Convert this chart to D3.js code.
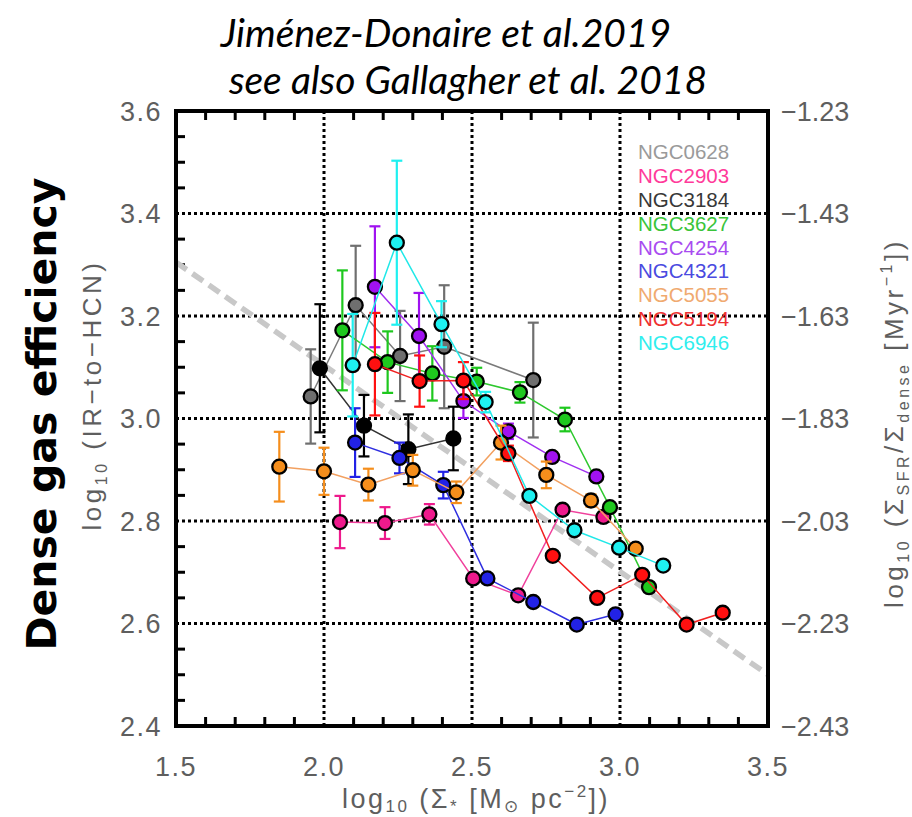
<!DOCTYPE html>
<html><head><meta charset="utf-8">
<script src="https://cdn.jsdelivr.net/npm/d3@7/dist/d3.min.js"></script>
<style>
html,body{margin:0;padding:0;background:#fff;}
svg{display:block;}
</style></head>
<body>
<svg id="chart" width="912" height="817"></svg>
<script>
// ---- Data ----
const galaxyNames = ["NGC0628","NGC2903","NGC3184","NGC3627","NGC4254","NGC4321","NGC5055","NGC5194","NGC6946"];
const markerColors = ["#6f6f6f","#ee1a8c","#000000","#1ec81e","#a012f0","#2222e6","#f58e1c","#ff1010","#1ef0f0"];
const lineColors   = ["#7a7a7a","#f0409c","#333333","#2ec82e","#a030f0","#3030e0","#f2a060","#f02020","#20e8e8"];
const legendColors = ["#9a9a9a","#ff3a9a","#383838","#3ac43a","#a84cf0","#4a4ae0","#f0aa70","#ee3030","#30eeee"];

const x0628 = [1.955, 2.107, 2.257, 2.406, 2.707];
const y0628 = [3.043, 3.221, 3.122, 3.140, 3.075];
const e0628 = [0.092, 0.116, 0.088, 0.120, 0.112];

const x2903 = [2.054, 2.206, 2.356, 2.504, 2.656, 2.806, 2.944];
const y2903 = [2.798, 2.796, 2.813, 2.688, 2.655, 2.822, 2.808];
const e2903 = [0.051, 0.031, 0.020, 0, 0, 0, 0];

const x3184 = [1.986, 2.135, 2.285, 2.437];
const y3184 = [3.098, 2.986, 2.940, 2.961];
const e3184 = [0.125, 0.060, 0.068, 0.062];

const x3627 = [2.062, 2.215, 2.366, 2.516, 2.662, 2.814, 2.966, 3.098];
const y3627 = [3.172, 3.110, 3.088, 3.072, 3.051, 2.998, 2.827, 2.671];
const e3627 = [0.117, 0.060, 0.053, 0.027, 0.020, 0.023, 0, 0];

const x4254 = [2.172, 2.321, 2.471, 2.623, 2.771, 2.920];
const y4254 = [3.257, 3.161, 3.034, 2.975, 2.925, 2.887];
const e4254 = [0.118, 0.084, 0.033, 0.015, 0, 0];

const x4321 = [2.105, 2.255, 2.403, 2.552, 2.707, 2.854, 2.985];
const y4321 = [2.953, 2.923, 2.870, 2.688, 2.642, 2.598, 2.618];
const e4321 = [0.067, 0.030, 0.026, 0, 0, 0, 0];

const x5055 = [1.849, 2.000, 2.150, 2.300, 2.447, 2.598, 2.751, 2.902, 3.053];
const y5055 = [2.906, 2.897, 2.871, 2.899, 2.856, 2.953, 2.890, 2.840, 2.746];
const e5055 = [0.068, 0.046, 0.031, 0.030, 0.021, 0.033, 0.026, 0.012, 0];

const x5194 = [2.172, 2.323, 2.471, 2.623, 2.773, 2.923, 3.075, 3.225, 3.347];
const y5194 = [3.106, 3.073, 3.074, 2.932, 2.732, 2.650, 2.695, 2.598, 2.621];
const e5194 = [0.100, 0.050, 0.036, 0.015, 0, 0, 0, 0, 0];

const x6946 = [2.097, 2.246, 2.397, 2.546, 2.694, 2.846, 2.997, 3.146];
const y6946 = [3.104, 3.343, 3.184, 3.032, 2.849, 2.782, 2.748, 2.713];
const e6946 = [0.100, 0.160, 0.045, 0.020, 0, 0, 0, 0];

// fit line endpoints (dashed gray)
const fitX = [1.5, 3.5];
const fitY = [3.305, 2.50];

const xTickLabels = ["1.5","2.0","2.5","3.0","3.5"];
const xTickValues = [1.5, 2.0, 2.5, 3.0, 3.5];
const yTickValues = [2.4, 2.6, 2.8, 3.0, 3.2, 3.4, 3.6];
const yTickLabels = ["2.4","2.6","2.8","3.0","3.2","3.4","3.6"];
const y2TickLabels = ["\u22122.43","\u22122.23","\u22122.03","\u22121.83","\u22121.63","\u22121.43","\u22121.23"];
const xGrid = [2.0, 2.5, 3.0];
const yGrid = [2.6, 2.8, 3.0, 3.2, 3.4];

const seriesX = [x0628,x2903,x3184,x3627,x4254,x4321,x5055,x5194,x6946];
const seriesY = [y0628,y2903,y3184,y3627,y4254,y4321,y5055,y5194,y6946];
const seriesE = [e0628,e2903,e3184,e3627,e4254,e4321,e5055,e5194,e6946];

// ---- Drawing ----
const svg = d3.select("#chart");
const x = d3.scaleLinear().domain([1.5, 3.5]).range([176, 768]);
const y = d3.scaleLinear().domain([2.4, 3.6]).range([726, 111]);
const FONT = "'Liberation Sans', Arial, sans-serif";
const TXT = "#5e5e5e";

// Titles
svg.append("text").attr("x", 446).attr("y", 47).attr("text-anchor","middle")
  .attr("font-family","Lato, 'Open Sans', sans-serif").attr("font-style","italic")
  .attr("font-size", 39).attr("fill","#000").text("Jiménez-Donaire et al.2019");
svg.append("text").attr("x", 468).attr("y", 94).attr("text-anchor","middle")
  .attr("font-family","Lato, 'Open Sans', sans-serif").attr("font-style","italic")
  .attr("font-size", 39).attr("fill","#000").text("see also Gallagher et al. 2018");

// Grid (dotted)
const grid = svg.append("g");
xGrid.forEach(v => grid.append("line").attr("x1", x(v)).attr("x2", x(v)).attr("y1", y(3.6)).attr("y2", y(2.4))
  .attr("stroke","#000").attr("stroke-width",3).attr("stroke-dasharray","3,3"));
yGrid.forEach(v => grid.append("line").attr("x1", x(1.5)).attr("x2", x(3.5)).attr("y1", y(v)).attr("y2", y(v))
  .attr("stroke","#000").attr("stroke-width",3).attr("stroke-dasharray","3,3"));

// Minor ticks
const ticks = svg.append("g").attr("stroke","#000").attr("stroke-width",3);
d3.range(1.6, 3.45, 0.1).forEach(v => {
  if (xGrid.some(g => Math.abs(g - v) < 1e-6)) return;
  ticks.append("line").attr("x1", x(v)).attr("x2", x(v)).attr("y1", y(2.4)).attr("y2", y(2.4) - 9);
  ticks.append("line").attr("x1", x(v)).attr("x2", x(v)).attr("y1", y(3.6)).attr("y2", y(3.6) + 9);
});
d3.range(2.45, 3.58, 0.05).forEach(v => {
  if (Math.abs(Math.round(v * 5) - v * 5) < 1e-6) return;
  ticks.append("line").attr("x1", x(1.5)).attr("x2", x(1.5) + 9).attr("y1", y(v)).attr("y2", y(v));
});

// Fit line
svg.append("line").attr("x1", x(fitX[0])).attr("y1", y(fitY[0])).attr("x2", x(fitX[1])).attr("y2", y(fitY[1]))
  .attr("stroke","#c8c8c8").attr("stroke-width",5.5).attr("stroke-dasharray","13,7");

// Series
const line = d3.line().x(d => x(d[0])).y(d => y(d[1]));
galaxyNames.forEach((name, i) => {
  const pts = seriesX[i].map((xv, j) => [xv, seriesY[i][j], seriesE[i][j]]);
  const g = svg.append("g");
  g.append("path").attr("d", line(pts)).attr("fill","none").attr("stroke", lineColors[i]).attr("stroke-width",1.5);
  pts.filter(p => p[2] > 0).forEach(p => {
    const cx = x(p[0]);
    g.append("line").attr("x1", cx).attr("x2", cx).attr("y1", y(p[1] - p[2])).attr("y2", y(p[1] + p[2]))
      .attr("stroke", markerColors[i]).attr("stroke-width",2.2);
    [p[1] - p[2], p[1] + p[2]].forEach(v => g.append("line").attr("x1", cx - 5.5).attr("x2", cx + 5.5)
      .attr("y1", y(v)).attr("y2", y(v)).attr("stroke", markerColors[i]).attr("stroke-width",2.2));
  });
  g.selectAll("circle").data(pts).join("circle")
    .attr("cx", d => x(d[0])).attr("cy", d => y(d[1])).attr("r", 7)
    .attr("fill", markerColors[i]).attr("stroke","#000").attr("stroke-width",2.3);
});

// Frame
svg.append("rect").attr("x", x(1.5)).attr("y", y(3.6)).attr("width", x(3.5) - x(1.5)).attr("height", y(2.4) - y(3.6))
  .attr("fill","none").attr("stroke","#000").attr("stroke-width",4);

// Legend
galaxyNames.forEach((name, i) => {
  svg.append("text").attr("x", 638).attr("y", 152 + i * 23.8).attr("dy","0.36em")
    .attr("font-family", FONT).attr("font-size", 20.5).attr("fill", legendColors[i]).text(name);
});

// Tick labels
const axisLabels = svg.append("g").attr("font-family", FONT).attr("font-size", 27).attr("fill", TXT);
yTickValues.forEach((v, i) => {
  axisLabels.append("text").attr("x", 162).attr("y", y(v)).attr("dy","0.36em").attr("text-anchor","end")
    .attr("letter-spacing", 1.5).text(yTickLabels[i]);
  axisLabels.append("text").attr("x", 781).attr("y", y(v)).attr("dy","0.36em").attr("text-anchor","start").text(y2TickLabels[i]);
});
xTickValues.forEach((v, i) => {
  axisLabels.append("text").attr("x", x(v)).attr("y", 776).attr("text-anchor","middle")
    .attr("letter-spacing", 1.5).text(xTickLabels[i]);
});

// Axis titles
const xt = svg.append("text").attr("x", 476).attr("y", 808).attr("text-anchor","middle")
  .attr("font-family", FONT).attr("font-size", 27).attr("letter-spacing", 2.5).attr("fill", TXT);
xt.append("tspan").text("log");
xt.append("tspan").attr("font-size", 17).attr("dy", 4).text("10");
xt.append("tspan").attr("dy", -4).text(" (\u03A3");
xt.append("tspan").attr("font-size", 17).attr("dy", 4).text("*");
xt.append("tspan").attr("dy", -4).text(" [M");
xt.append("tspan").attr("font-size", 17).attr("dy", 4).text("\u2299");
xt.append("tspan").attr("dy", -4).text(" pc");
xt.append("tspan").attr("font-size", 17).attr("dy", -11).text("\u22122");
xt.append("tspan").attr("dy", 11).text("])");

const yt = svg.append("text").attr("transform","translate(101,395) rotate(-90)").attr("text-anchor","middle")
  .attr("font-family", FONT).attr("font-size", 26).attr("letter-spacing", 3.5).attr("fill", TXT);
yt.append("tspan").text("log");
yt.append("tspan").attr("font-size", 16).attr("dy", 6).text("10");
yt.append("tspan").attr("dy", -6).text(" (IR\u2212to\u2212HCN)");

const y2t = svg.append("text").attr("transform","translate(903,423) rotate(-90)").attr("text-anchor","middle")
  .attr("font-family", FONT).attr("font-size", 26).attr("letter-spacing", 3.5).attr("fill", TXT);
y2t.append("tspan").text("log");
y2t.append("tspan").attr("font-size", 16).attr("dy", 6).text("10");
y2t.append("tspan").attr("dy", -6).text(" (\u03A3");
y2t.append("tspan").attr("font-size", 16).attr("dy", 6).text("SFR");
y2t.append("tspan").attr("dy", -6).text("/\u03A3");
y2t.append("tspan").attr("font-size", 16).attr("dy", 6).text("dense");
y2t.append("tspan").attr("dy", -6).text(" [Myr");
y2t.append("tspan").attr("font-size", 16).attr("dy", -11).text("\u22121");
y2t.append("tspan").attr("dy", 11).text("])");

svg.append("text").attr("transform","translate(56,414) rotate(-90)").attr("text-anchor","middle")
  .attr("font-family","'DejaVu Sans', Verdana, sans-serif").attr("font-weight","bold")
  .attr("font-size", 41).attr("fill","#000").text("Dense gas efficiency");
</script>
</body></html>
